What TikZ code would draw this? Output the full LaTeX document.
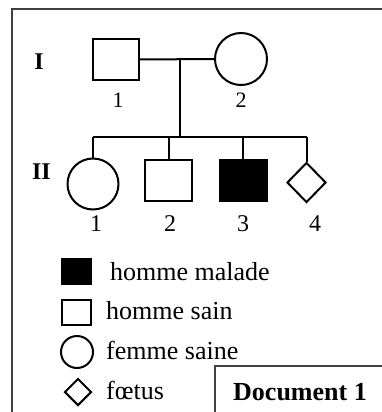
\documentclass[tikz,border=0pt]{standalone}
\usepackage{fontspec}
\setmainfont{Liberation Serif}
\usetikzlibrary{shapes.geometric}
\begin{document}
\begin{tikzpicture}[x=1pt,y=1pt,
  ln/.style={line width=2pt},
  msq/.style={draw,ln,rectangle,inner sep=0pt,minimum width=46pt,minimum height=41pt},
  fcirc/.style={draw,ln,circle,inner sep=0pt,minimum size=52pt},
  fdia/.style={draw,ln,diamond,inner sep=0pt,minimum width=39pt,minimum height=40pt},
  numI/.style={inner sep=0pt,anchor=base,font=\fontsize{22}{24}\selectfont},
  numII/.style={inner sep=0pt,anchor=base,font=\fontsize{24}{26}\selectfont},
  gen/.style={inner sep=0pt,font=\bfseries\fontsize{24}{26}\selectfont},
  leg/.style={inner sep=0pt,anchor=base west,font=\fontsize{26}{30}\selectfont},
  frame/.style={line width=1.5pt,draw=black!75}]
\useasboundingbox (0,0) rectangle (381,-412);
\fill[white] (0,0) rectangle (381,-412);
% outer frame
\draw[frame] (12,-420) -- (12,-9) -- (390,-9);
% generation labels
\node[gen] (gI) at (39,-62) {I};
\node[gen] (gII) at (41.5,-172) {II};
% generation I
\node[msq] (I1) at (116,-59.5) {};
\node[fcirc] (I2) at (241,-59) {};
\node[numI] (nI1) at (118,-107) {1};
\node[numI] (nI2) at (241,-107) {2};
\coordinate (m) at (180,-59.5);
\coordinate (s) at (180,-137);
\draw[ln] (I1.east) -- (I2.west);
\draw[ln] (m) -- (s);
% generation II
\node[fcirc,minimum size=51pt] (II1) at (93,-184) {};
\node[msq,minimum width=47pt] (II2) at (168.5,-180.5) {};
\node[msq,minimum width=47pt,fill=black] (II3) at (243,-180.5) {};
\node[fdia] (II4) at (306.5,-182.5) {};
\draw[ln] (II1.north |- s) -- (II4.north |- s);
\foreach \c in {II1,II2,II3,II4} \draw[ln] (\c.north) -- (\c.north |- s);
\node[numII] (nII1) at (96,-231) {1};
\node[numII] (nII2) at (170,-231) {2};
\node[numII] (nII3) at (243,-231) {3};
\node[numII] (nII4) at (315,-231) {4};
% legend
\node[msq,minimum width=29pt,minimum height=25pt,fill=black] (L1) at (76.5,-271.5) {};
\node[msq,minimum width=29pt,minimum height=25pt] (L2) at (76.5,-312) {};
\node[fcirc,minimum size=32pt] (L3) at (77,-352) {};
\node[fdia,minimum width=27pt,minimum height=27pt] (L4) at (78,-392) {};
\node[leg] (t1) at (110,-280) {homme malade};
\node[leg] (t2) at (106,-319) {homme sain};
\node[leg] (t3) at (106,-359) {femme saine};
\node[leg] (t4) at (106,-399) {fœtus};
% document box
\draw[frame] (215,-420) -- (215,-366) -- (390,-366);
\node[inner sep=0pt,anchor=base,font=\bfseries\fontsize{26}{30}\selectfont] (doc) at (300,-400) {Document 1};
\end{tikzpicture}
\end{document}
